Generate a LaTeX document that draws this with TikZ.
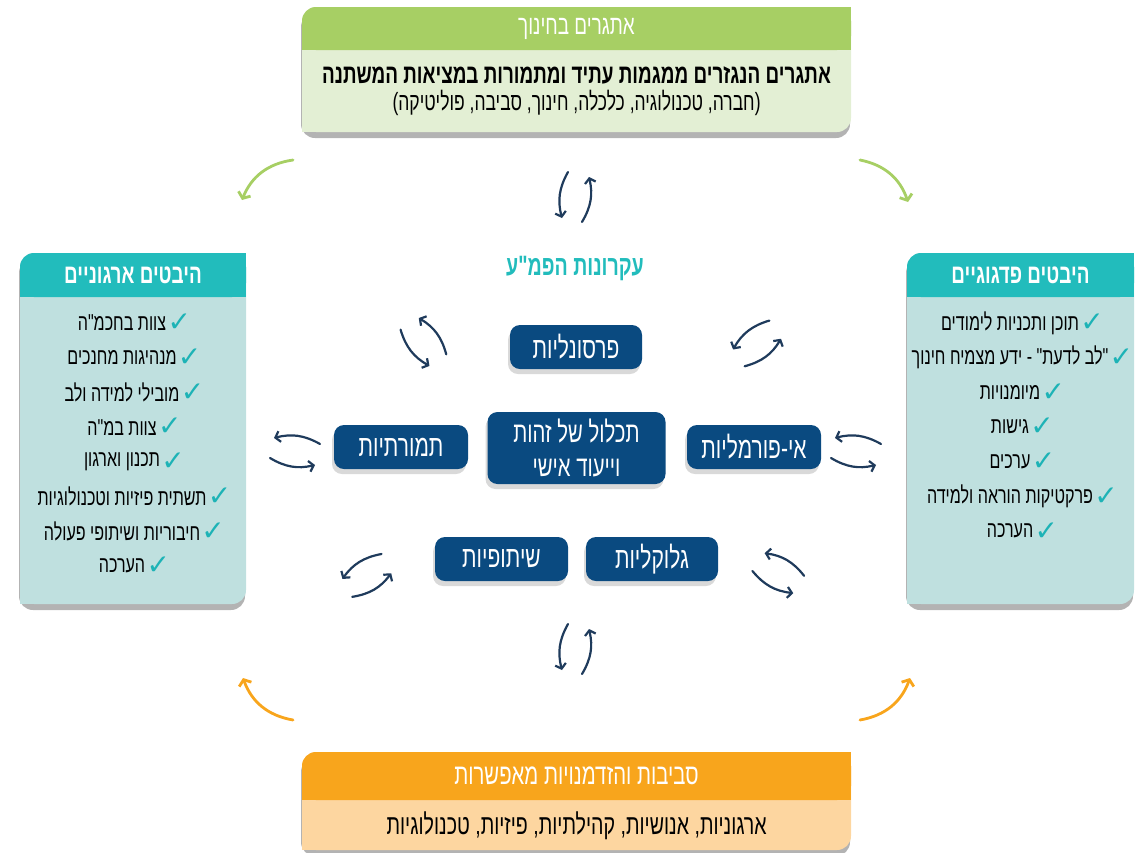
\documentclass[tikz,border=0pt]{standalone}
\usepackage{fontspec}
\usetikzlibrary{shapes,arrows.meta,positioning,shadows}
\newfontfamily\heb[Script=Hebrew,FakeStretch=0.7]{Liberation Sans}
\newfontfamily\symfnt{DejaVu Sans}
\TeXXeTstate=1
\definecolor{pmblue}{HTML}{0A4A80}
\definecolor{pmarrow}{HTML}{1F3B5C}
\definecolor{pmteal}{HTML}{22BCBC}
\definecolor{pmcheck}{HTML}{1DB3B6}
\definecolor{pmtealbg}{HTML}{BFE0DF}
\definecolor{pmgreen}{HTML}{A7CF64}
\definecolor{pmgreenbg}{HTML}{E3EFD4}
\definecolor{pmorange}{HTML}{F8A51C}
\definecolor{pmorangebg}{HTML}{FDD6A0}
\newcommand{\rtl}[1]{\beginR #1\endR}
\newcommand{\sqc}[4]{\fill[#1] (#2) rectangle ++(#3,#4);}
\newcommand{\swappair}[3]{%
  \begin{scope}[shift={(#1,#2)},rotate=#3]
    \draw[swaparrow] (-6,-24) to[bend right=22] (-12,22);
    \draw[swaparrow] (8,26) to[bend right=22] (15,-19);
  \end{scope}}
\begin{document}
\begin{tikzpicture}[x=1pt,y=-1pt,
  headbox/.style={rectangle,rounded corners=14pt,inner sep=0pt},
  bodybox/.style={rectangle,rounded corners=14pt,inner sep=0pt,drop shadow={shadow xshift=-1pt,shadow yshift=-6pt,opacity=0.6}},
  pmbox/.style={rectangle,rounded corners=10pt,fill=pmblue,text=white,inner sep=0pt,minimum height=44pt,align=center,font=\heb\fontsize{30}{34}\selectfont,drop shadow={shadow xshift=-2pt,shadow yshift=-5pt,opacity=0.3}},
  checkitem/.style={inner sep=0pt,font=\heb\fontsize{23}{26}\selectfont},
  checkmark/.style={inner sep=0pt,text=pmcheck,font=\symfnt\fontsize{28}{28}\selectfont},
  swaparrow/.style={draw=pmarrow,line width=2.2pt,line cap=round,-{Straight Barb[length=4.5pt,width=11pt]}},
  cyclearrow/.style={line width=2.8pt,line cap=round,-{Straight Barb[length=5pt,width=13pt]}}]
\useasboundingbox (0,0) rectangle (1142,852);

% top box
\node[bodybox,fill=pmgreenbg,minimum width=549pt,minimum height=125pt] (chbody) at (576.5,69.5) {};
\sqc{pmgreenbg}{chbody.south west}{14}{-14}
\node[headbox,fill=pmgreen,minimum width=549pt,minimum height=43pt] (chhead) at (576.5,28.5) {};
\sqc{pmgreen}{chhead.north east}{-14}{14}
\sqc{pmgreen}{chhead.south west}{14}{-14}
\sqc{pmgreen}{chhead.south east}{-14}{-14}
\node[text=white,font=\heb\fontsize{27}{30}\selectfont] (chtitle) at (chhead) {\rtl{אתגרים בחינוך}};
\node[font=\heb\bfseries\fontsize{27}{30}\selectfont] (chline1) at (576.5,75) {\rtl{אתגרים הנגזרים ממגמות עתיד ומתמורות במציאות המשתנה}};
\node[font=\heb\fontsize{25}{28}\selectfont] (chline2) at (576.5,103) {\rtl{(חברה, טכנולוגיה, כלכלה, חינוך, סביבה, פוליטיקה)}};

% bottom box
\node[bodybox,fill=pmorangebg,minimum width=549pt,minimum height=98pt] (envbody) at (576.5,801) {};
\sqc{pmorangebg}{envbody.south west}{14}{-14}
\node[headbox,fill=pmorange,minimum width=549pt,minimum height=48pt] (envhead) at (576.5,776) {};
\sqc{pmorange}{envhead.north east}{-14}{14}
\sqc{pmorange}{envhead.south west}{14}{-14}
\sqc{pmorange}{envhead.south east}{-14}{-14}
\node[text=white,font=\heb\fontsize{29}{32}\selectfont] (envtitle) at (envhead) {\rtl{סביבות והזדמנויות מאפשרות}};
\node[font=\heb\fontsize{28}{30}\selectfont] (envline) at (576.5,826) {\rtl{ארגוניות, אנושיות, קהילתיות, פיזיות, טכנולוגיות}};

% left box
\node[bodybox,fill=pmtealbg,minimum width=226pt,minimum height=351pt] (orgbody) at (133,428.5) {};
\sqc{pmtealbg}{orgbody.south west}{14}{-14}
\node[headbox,fill=pmteal,minimum width=226pt,minimum height=44pt] (orghead) at (133,275) {};
\sqc{pmteal}{orghead.north east}{-14}{14}
\sqc{pmteal}{orghead.south west}{14}{-14}
\sqc{pmteal}{orghead.south east}{-14}{-14}
\node[text=white,font=\heb\bfseries\fontsize{27}{30}\selectfont] (orgtitle) at (orghead) {\rtl{היבטים ארגוניים}};
\foreach \txt [count=\i] in {צוות בחכמ"ה, מנהיגות מחנכים, מובילי למידה ולב, צוות במ"ה, תכנון וארגון, תשתית פיזיות וטכנולוגיות, חיבוריות ושיתופי פעולה, הערכה}
  {\node[checkitem] (orgitem\i) at (122,288.3+34.7*\i) {\rtl{\txt}};
   \node[checkmark,right=1pt of orgitem\i] (orgchk\i) {✓};}

% right box
\node[bodybox,fill=pmtealbg,minimum width=227pt,minimum height=351pt] (pedbody) at (1020.5,428.5) {};
\sqc{pmtealbg}{pedbody.south west}{14}{-14}
\node[headbox,fill=pmteal,minimum width=227pt,minimum height=44pt] (pedhead) at (1020.5,275) {};
\sqc{pmteal}{pedhead.north east}{-14}{14}
\sqc{pmteal}{pedhead.south west}{14}{-14}
\sqc{pmteal}{pedhead.south east}{-14}{-14}
\node[text=white,font=\heb\bfseries\fontsize{27}{30}\selectfont] (pedtitle) at (pedhead) {\rtl{היבטים פדגוגיים}};
\foreach \txt [count=\i] in {תוכן ותכניות לימודים, "לב לדעת" - ידע מצמיח חינוך, מיומנויות, גישות, ערכים, פרקטיקות הוראה ולמידה, הערכה}
  {\node[checkitem] (peditem\i) at (1010,288.3+34.7*\i) {\rtl{\txt}};
   \node[checkmark,right=1pt of peditem\i] (pedchk\i) {✓};}

% principles
\node[text=pmteal,font=\heb\bfseries\fontsize{28}{30}\selectfont] (pmtitle) at (575,268) {\rtl{עקרונות הפמ"ע}};
\node[pmbox,minimum width=132pt] (personal) at (576,347) {\rtl{פרסונליות}};
\node[pmbox,minimum width=178pt,minimum height=72pt,font=\heb\fontsize{29}{34}\selectfont] (identity) at (576.5,448) {\rtl{תכלול של זהות}\\\rtl{וייעוד אישי}};
\node[pmbox,minimum width=134pt] (change) at (401,447) {\rtl{תמורתיות}};
\node[pmbox,minimum width=134pt] (informal) at (754,447) {\rtl{אי-פורמליות}};
\node[pmbox,minimum width=133pt] (sharing) at (501.5,559) {\rtl{שיתופיות}};
\node[pmbox,minimum width=132pt] (glocal) at (652,559) {\rtl{גלוקליות}};

\foreach \px/\py/\ang in {574/196/0, 574/648/0, 422/342/46, 757/342/-44, 296/450/-90, 857/450/-90, 367/574/-50, 777/574/69}
  {\swappair{\px}{\py}{\ang}}

\draw[cyclearrow,pmgreen] (293,160) to[bend right=30] (242,200);
\draw[cyclearrow,pmgreen] (860,160) to[bend left=30] (908,202);
\draw[cyclearrow,pmorange] (293,720) to[bend left=30] (243,678);
\draw[cyclearrow,pmorange] (860,720) to[bend right=30] (910,678);
\end{tikzpicture}
\end{document}
